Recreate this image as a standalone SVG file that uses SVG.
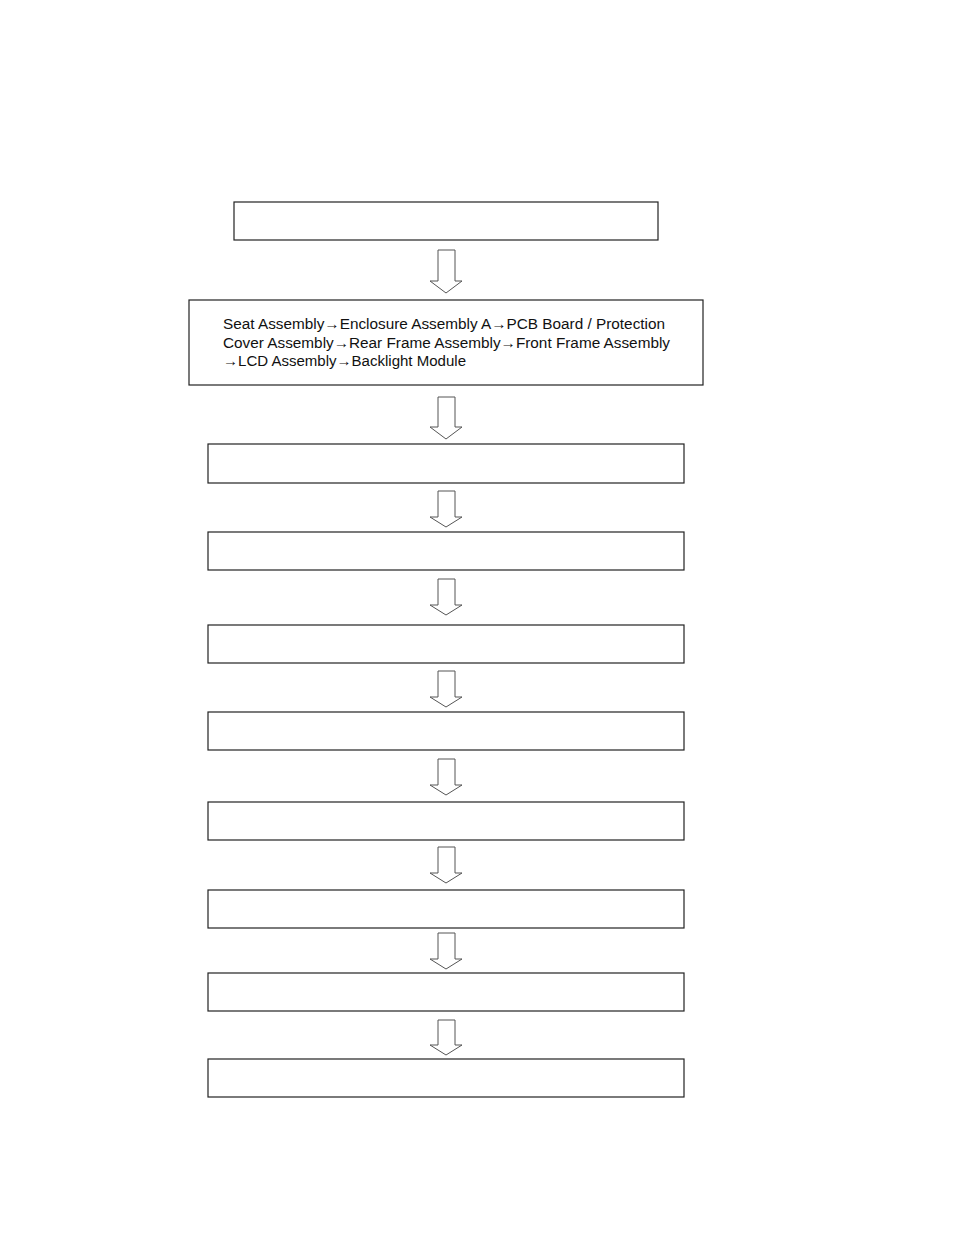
<svg xmlns="http://www.w3.org/2000/svg" width="954" height="1233" viewBox="0 0 954 1233">
<style>
.box{fill:#fff;stroke:#222;stroke-width:1.2}
.arr{fill:#fff;stroke:#555;stroke-width:1}
.t{font-family:"Liberation Sans",Arial,sans-serif;font-size:15.3px;fill:#111}
</style>
<rect width="954" height="1233" fill="#fff"/>
<g id="connectors">
<path class="arr" d="M438,250 H455 V281 H462 L446,293 L430,281 H438 Z"/>
<path class="arr" d="M438,397 H455 V427 H462 L446,439 L430,427 H438 Z"/>
<path class="arr" d="M438,491 H455 V517 H462 L446,527 L430,517 H438 Z"/>
<path class="arr" d="M438,579 H455 V605 H462 L446,615 L430,605 H438 Z"/>
<path class="arr" d="M438,671 H455 V697 H462 L446,707 L430,697 H438 Z"/>
<path class="arr" d="M438,759 H455 V785 H462 L446,795 L430,785 H438 Z"/>
<path class="arr" d="M438,847 H455 V873 H462 L446,883 L430,873 H438 Z"/>
<path class="arr" d="M438,933 H455 V959 H462 L446,969 L430,959 H438 Z"/>
<path class="arr" d="M438,1020 H455 V1045 H462 L446,1055 L430,1045 H438 Z"/>
</g>
<g id="n1"><rect class="box" x="234" y="202" width="424" height="38"/></g>
<g id="n2"><rect class="box" x="189" y="300" width="514" height="85"/>
<text class="t" x="223" y="329" textLength="442" lengthAdjust="spacingAndGlyphs">Seat Assembly→Enclosure Assembly A→PCB Board / Protection</text>
<text class="t" x="223" y="348" textLength="447" lengthAdjust="spacingAndGlyphs">Cover Assembly→Rear Frame Assembly→Front Frame Assembly</text>
<text class="t" x="223" y="366" textLength="243" lengthAdjust="spacingAndGlyphs">→LCD Assembly→Backlight Module</text>
</g>
<g id="n3"><rect class="box" x="208" y="444" width="476" height="39"/></g>
<g id="n4"><rect class="box" x="208" y="532" width="476" height="38"/></g>
<g id="n5"><rect class="box" x="208" y="625" width="476" height="38"/></g>
<g id="n6"><rect class="box" x="208" y="712" width="476" height="38"/></g>
<g id="n7"><rect class="box" x="208" y="802" width="476" height="38"/></g>
<g id="n8"><rect class="box" x="208" y="890" width="476" height="38"/></g>
<g id="n9"><rect class="box" x="208" y="973" width="476" height="38"/></g>
<g id="n10"><rect class="box" x="208" y="1059" width="476" height="38"/></g>
</svg>
